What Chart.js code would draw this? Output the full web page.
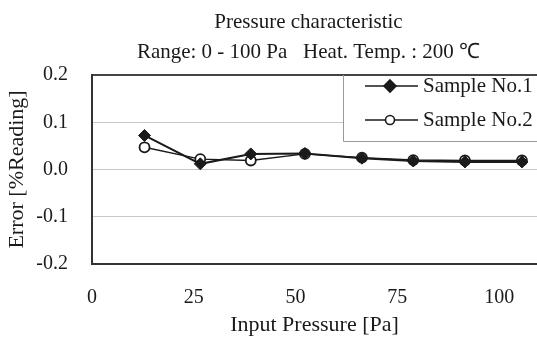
<!DOCTYPE html>
<html>
<head>
<meta charset="utf-8">
<script src="https://cdn.jsdelivr.net/npm/chart.js@4.4.0/dist/chart.umd.min.js"></script>
<style>
  html, body { margin: 0; padding: 0; background: #fff; }
  #wrap { width: 537px; height: 338px; }
</style>
</head>
<body>
<div id="wrap"><canvas id="pressureChart"></canvas></div>
<script>
// values
var pressures = [12.9, 26.6, 39.0, 52.3, 66.3, 78.9, 91.6, 105.6];
var sample1 = [0.072, 0.012, 0.033, 0.034, 0.024, 0.018, 0.016, 0.016];
var sample2 = [0.047, 0.022, 0.019, 0.033, 0.025, 0.020, 0.019, 0.019];
var xTicks = [0, 25, 50, 75, 100];
var seriesNames = ["Sample No.1", "Sample No.2"];
var titleLines = ["Pressure characteristic", "Range: 0 - 100 Pa   Heat. Temp. : 200 \u2103"];

var serif = "'Liberation Serif', 'Times New Roman', serif";
var ink = "#1a1a1a";

function toPoints(xs, ys) {
    var pts = [];
    for (var i = 0; i < xs.length; i++) {
        pts.push({ x: xs[i], y: ys[i] });
    }
    return pts;
}

function drawText(ctx, text, x, y, align) {
    ctx.textAlign = align;
    ctx.textBaseline = "middle";
    ctx.fillText(text, x, y);
}

var titlePlugin = {
    id: "titleLines",
    afterDraw: function(chart) {
        var ctx = chart.ctx;
        var area = chart.chartArea;
        var cx = (area.left + area.right) / 2 - 6;
        ctx.save();
        ctx.fillStyle = ink;
        ctx.font = "21px " + serif;
        drawText(ctx, titleLines[0], cx, 22, "center");
        drawText(ctx, titleLines[1], cx, 52, "center");
        ctx.restore();
    }
};

var legendBox = {
    id: "legendBox",
    afterDatasetsDraw: function(chart) {
        var ctx = chart.ctx;
        var left = 343, top = chart.chartArea.top, bottom = 141;
        ctx.save();
        ctx.fillStyle = "#fff";
        ctx.fillRect(left, top + 1, 200, bottom - top - 1);
        ctx.strokeStyle = "#9a9a9a";
        ctx.lineWidth = 1;
        ctx.beginPath();
        ctx.moveTo(left + 0.5, top);
        ctx.lineTo(left + 0.5, bottom + 0.5);
        ctx.lineTo(540, bottom + 0.5);
        ctx.stroke();

        var rows = [86, 120];
        for (var i = 0; i < rows.length; i++) {
            var y = rows[i];
            var ds = chart.data.datasets[i];
            ctx.strokeStyle = ink;
            ctx.lineWidth = 1.6;
            ctx.beginPath();
            ctx.moveTo(365, y);
            ctx.lineTo(418, y);
            ctx.stroke();
            ctx.fillStyle = ds.pointBackgroundColor;
            ctx.beginPath();
            if (ds.pointStyle === "rectRot") {
                ctx.moveTo(390, y - 6);
                ctx.lineTo(396, y);
                ctx.lineTo(390, y + 6);
                ctx.lineTo(384, y);
                ctx.closePath();
            } else {
                ctx.arc(390, y, 4.5, 0, Math.PI * 2);
            }
            ctx.fill();
            ctx.stroke();
            ctx.fillStyle = ink;
            ctx.font = "21px " + serif;
            drawText(ctx, seriesNames[i], 423, y, "left");
        }
        ctx.restore();
    }
};

var ctx = document.getElementById("pressureChart").getContext("2d");
var myChart = new Chart(ctx, {
    type: "line",
    data: {
        datasets: [{
            label: seriesNames[0],
            data: toPoints(pressures, sample1),
            borderColor: ink,
            borderWidth: 2,
            pointStyle: "rectRot",
            pointRadius: 6,
            pointBackgroundColor: ink,
            pointBorderColor: ink,
            pointBorderWidth: 1,
            tension: 0
        }, {
            label: seriesNames[1],
            data: toPoints(pressures, sample2),
            borderColor: ink,
            borderWidth: 1.4,
            pointStyle: "circle",
            pointRadius: 5,
            pointBackgroundColor: "#fff",
            pointBorderColor: ink,
            pointBorderWidth: 1.8,
            tension: 0
        }]
    },
    options: {
        responsive: true,
        maintainAspectRatio: false,
        animation: false,
        layout: { autoPadding: false, padding: { top: 75, left: 0, right: 0, bottom: 0 } },
        plugins: {
            legend: { display: false },
            title: { display: false },
            tooltip: { enabled: false }
        },
        scales: {
            x: {
                type: "linear",
                min: 0,
                max: 109.3,
                afterBuildTicks: function(scale) {
                    scale.ticks = xTicks.map(function(v) { return { value: v }; });
                },
                afterFit: function(scale) {
                    scale.height = 74;
                    scale.paddingLeft = 0;
                    scale.paddingRight = 0;
                },
                grid: { display: false, drawTicks: false },
                border: { color: "#333", width: 2 },
                ticks: {
                    padding: 22,
                    color: ink,
                    maxRotation: 0,
                    font: { family: serif, size: 20 }
                },
                title: {
                    display: true,
                    text: "Input Pressure [Pa]",
                    color: ink,
                    font: { family: serif, size: 22 },
                    padding: { top: 0, bottom: 0 }
                }
            },
            y: {
                min: -0.2,
                max: 0.2,
                afterFit: function(scale) { scale.width = 92; },
                grid: {
                    drawTicks: false,
                    color: function(c) {
                        if (c.tick && Math.abs(Math.abs(c.tick.value) - 0.2) < 1e-6) return "#444";
                        return "#c8c8c8";
                    },
                    lineWidth: function(c) {
                        if (c.tick && Math.abs(Math.abs(c.tick.value) - 0.2) < 1e-6) return 2;
                        return 1;
                    }
                },
                border: { color: "#333", width: 2 },
                ticks: {
                    stepSize: 0.1,
                    padding: 24,
                    color: ink,
                    font: { family: serif, size: 20 },
                    callback: function(v) { return v.toFixed(1); }
                },
                title: {
                    display: true,
                    text: "Error [%Reading]",
                    color: ink,
                    font: { family: serif, size: 22 },
                    padding: { top: 4, bottom: 0 }
                }
            }
        }
    },
    plugins: [titlePlugin, legendBox]
});
</script>
</body>
</html>
